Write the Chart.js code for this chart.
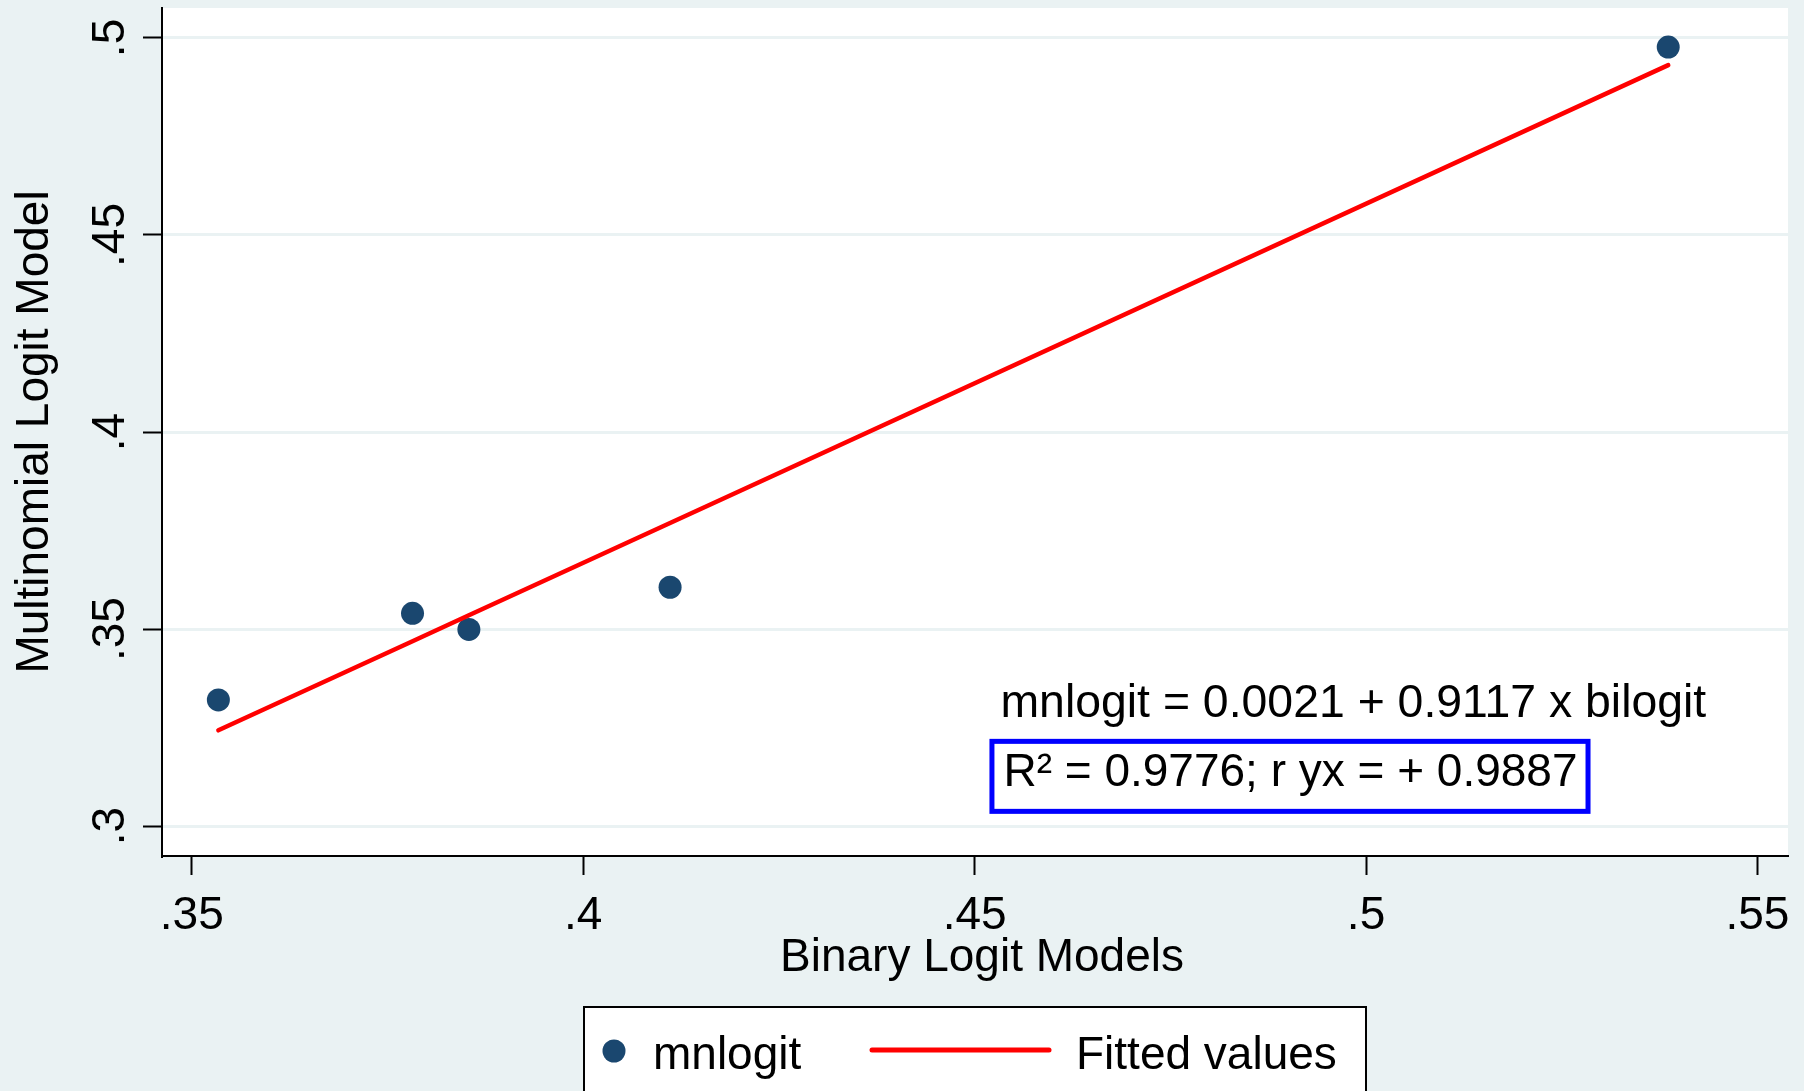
<!DOCTYPE html>
<html><head><meta charset="utf-8">
<script src="https://cdn.jsdelivr.net/npm/chart.js@4"></script>
<style>html,body{margin:0;padding:0;background:#EAF2F3;overflow:hidden}</style>
</head><body>
<canvas id="c" width="1804" height="1091"></canvas>
<script>
// ---- data ----
const seriesNames = ['mnlogit', 'Fitted values'];
const bilogitValues = [0.3534, 0.3782, 0.3854, 0.4111, 0.5386];
const mnlogitValues = [0.3320, 0.3540, 0.3499, 0.3606, 0.4977];
const fittedValues  = [0.3243, 0.3469, 0.3535, 0.3769, 0.4931];
const xTickValues = [0.35, 0.40, 0.45, 0.50, 0.55];
const xTickLabels = ['.35', '.4', '.45', '.5', '.55'];
const yTickValues = [0.30, 0.35, 0.40, 0.45, 0.50];
const yTickLabels = ['.3', '.35', '.4', '.45', '.5'];
const xAxisTitle = 'Binary Logit Models';
const yAxisTitle = 'Multinomial Logit Model';
const noteLines = ['mnlogit = 0.0021 + 0.9117 x bilogit', 'R² = 0.9776; r yx = + 0.9887'];
const noteX = 0.4533;
const noteY = [0.3277, 0.3102];

// ---- styles ----
const FONT = "'Liberation Sans', Arial, Helvetica, sans-serif";
const BG = '#EAF2F3';
const NAVY = '#1A476F';
const RED = '#FF0000';

const decor = {
  id: 'decor',
  beforeDraw(chart) {
    const {ctx, chartArea: a} = chart;
    ctx.save();
    ctx.fillStyle = BG; ctx.fillRect(0, 0, chart.width, chart.height);
    ctx.fillStyle = '#FFFFFF'; ctx.fillRect(a.left, a.top, a.right - a.left, a.bottom - a.top);
    ctx.restore();
  },
  afterDraw(chart) {
    const {ctx, chartArea: a} = chart;
    const x = chart.scales.x, y = chart.scales.y;
    ctx.save();
    ctx.fillStyle = '#000';
    ctx.font = '46px ' + FONT;
    // rotated y tick labels
    y.ticks.forEach((t, i) => {
      const py = y.getPixelForValue(t.value);
      ctx.save();
      ctx.translate(a.left - 38, py);
      ctx.rotate(-Math.PI / 2);
      ctx.textAlign = 'center';
      ctx.textBaseline = 'alphabetic';
      ctx.fillText(yTickLabels[i], 0, 0);
      ctx.restore();
    });
    // x axis title (slightly right of plot centre, as in the original)
    ctx.textAlign = 'center';
    ctx.textBaseline = 'alphabetic';
    ctx.fillText(xAxisTitle, (a.left + a.right) / 2 + 7, a.bottom + 115);
    // notes
    const nx = x.getPixelForValue(noteX);
    const ny1 = y.getPixelForValue(noteY[0]);
    const ny2 = y.getPixelForValue(noteY[1]);
    ctx.textAlign = 'left';
    ctx.font = '46.4px ' + FONT;
    ctx.fillText(noteLines[0], nx, ny1);
    ctx.font = '46px ' + FONT;
    ctx.fillText(noteLines[1], nx + 3, ny2);
    const w = ctx.measureText(noteLines[1]).width;
    ctx.strokeStyle = '#0000FF';
    ctx.lineWidth = 5;
    ctx.strokeRect(nx - 8.5, ny2 - 44.5, w + 22, 70);
    // legend
    const cx = (a.left + a.right) / 2;
    const lw = 782, lx = cx - lw / 2, ly = chart.height - 84;
    ctx.fillStyle = '#FFFFFF';
    ctx.fillRect(lx, ly, lw, 120);
    ctx.strokeStyle = '#000';
    ctx.lineWidth = 2;
    ctx.strokeRect(lx, ly, lw, 120);
    ctx.fillStyle = NAVY;
    ctx.beginPath(); ctx.arc(lx + 30, ly + 44, 11.5, 0, Math.PI * 2); ctx.fill();
    ctx.fillStyle = '#000';
    ctx.fillText(seriesNames[0], lx + 69, ly + 62);
    ctx.strokeStyle = RED; ctx.lineWidth = 5; ctx.lineCap = 'round';
    ctx.beginPath(); ctx.moveTo(lx + 288, ly + 43); ctx.lineTo(lx + 465, ly + 43); ctx.stroke();
    ctx.fillText(seriesNames[1], lx + 492, ly + 62);
    ctx.restore();
  }
};

new Chart(document.getElementById('c'), {
  type: 'scatter',
  data: {
    datasets: [
      { label: seriesNames[0], data: bilogitValues.map((v, i) => ({x: v, y: mnlogitValues[i]})),
        backgroundColor: NAVY, borderWidth: 0, pointRadius: 11.5, pointHoverRadius: 11.5, order: 2 },
      { label: seriesNames[1], type: 'line', data: bilogitValues.map((v, i) => ({x: v, y: fittedValues[i]})),
        borderColor: RED, borderWidth: 4.5, pointRadius: 0, showLine: true, fill: false, tension: 0,
        borderCapStyle: 'round', order: 1 }
    ]
  },
  options: {
    responsive: false, animation: false, devicePixelRatio: 1, events: [],
    layout: { autoPadding: false, padding: { left: 0, top: 8, right: 16, bottom: 105 } },
    plugins: { legend: { display: false }, tooltip: { enabled: false } },
    scales: {
      x: {
        type: 'linear', position: 'bottom', min: 0.3462, max: 0.5539,
        afterBuildTicks: s => { s.ticks = xTickValues.map(v => ({value: v})); },
        afterFit: s => { s.height = 130; },
        ticks: { callback: (v, i) => xTickLabels[i], font: {family: FONT, size: 46}, color: '#000',
                 padding: 14, maxRotation: 0, minRotation: 0, autoSkip: false },
        grid: { drawOnChartArea: false, drawTicks: true, tickLength: 19, tickColor: '#000', tickWidth: 2 },
        border: { display: true, color: '#000', width: 2 },
        title: { display: false, text: xAxisTitle }
      },
      y: {
        type: 'linear', position: 'left', min: 0.2924, max: 0.5076,
        afterBuildTicks: s => { s.ticks = yTickValues.map(v => ({value: v})); },
        afterFit: s => { s.width = 162; },
        ticks: { display: false },
        grid: { color: BG, lineWidth: 3, drawTicks: true, tickLength: 19, tickColor: '#000', tickWidth: 2 },
        border: { display: true, color: '#000', width: 2 },
        title: { display: true, text: yAxisTitle, font: {family: FONT, size: 46}, color: '#000',
                 padding: {top: 8, bottom: 0} }
      }
    }
  },
  plugins: [decor]
});
</script>
</body></html>
